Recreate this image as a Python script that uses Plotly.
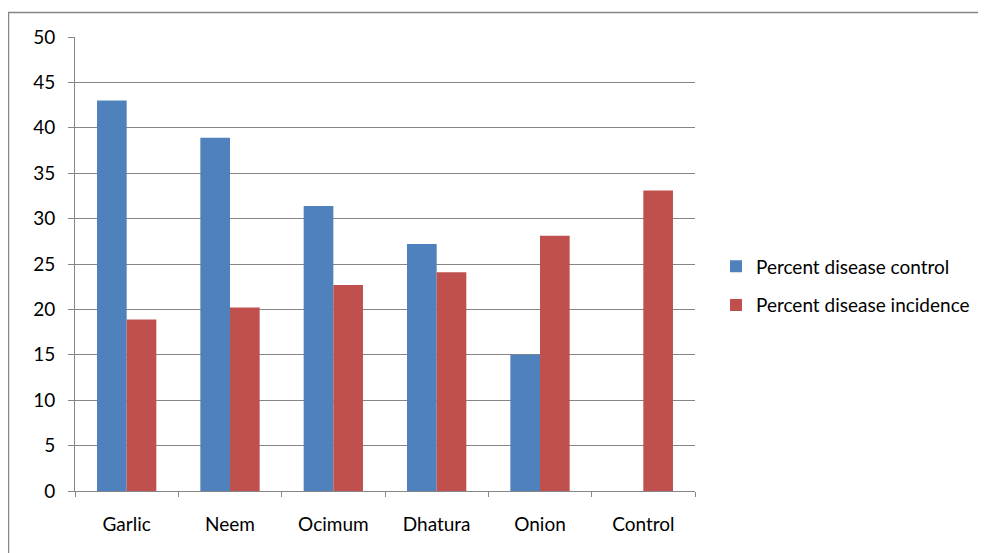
import plotly.graph_objects as go

categories = ["Garlic", "Neem", "Ocimum", "Dhatura", "Onion", "Control"]
disease_control = [43.0, 38.9, 31.4, 27.2, 15.0, None]
disease_incidence = [18.9, 20.2, 22.7, 24.1, 28.1, 33.1]

# page has an 8px body margin, so the figure is 8px smaller and coordinates are shifted
OFF = 8
W, H = 986 - OFF, 553 - OFF
L, R, T, B = 75 - OFF, 986 - 695, 37 - OFF, 553 - 491
pw, ph = W - L - R, H - T - B

def px(x):
    return (x - OFF - L) / pw

def py(y):
    return (H - B - (y - OFF)) / ph

FONT = "Lato, Open Sans, sans-serif"
font = dict(family=FONT, size=19, color="#000000")

fig = go.Figure()
fig.add_trace(go.Bar(x=categories, y=disease_control, name="Percent disease control",
                     legendgroup="a", marker=dict(color="#4F81BD", line=dict(width=0))))
fig.add_trace(go.Bar(x=categories, y=disease_incidence, name="Percent disease incidence",
                     legendgroup="b", marker=dict(color="#C0504D", line=dict(width=0))))

fig.update_layout(
    width=W, height=H,
    margin=dict(l=L, r=R, t=T, b=B, autoexpand=False),
    paper_bgcolor="white", plot_bgcolor="white",
    barmode="group", bargap=0.426, bargroupgap=0,
    font=font,
    showlegend=True,
    legend=dict(x=px(716), y=py(286), xanchor="left", yanchor="middle",
                font=dict(family=FONT, size=19, color="#000"),
                traceorder="grouped", tracegroupgap=11,
                itemwidth=30, bgcolor="rgba(0,0,0,0)"),
    xaxis=dict(showline=True, linecolor="#868686", linewidth=1, ticks="outside",
               tickson="boundaries", ticklen=5, tickcolor="#868686", showgrid=False,
               tickfont=font, ticklabelstandoff=16),
    yaxis=dict(range=[0, 50], dtick=5, showline=True, linecolor="#868686", linewidth=1,
               ticks="outside", ticklen=6, tickcolor="#868686", showgrid=True,
               gridcolor="#868686", gridwidth=1, tickfont=font, zeroline=False,
               ticklabelstandoff=9),
    shapes=[dict(type="rect", xref="paper", yref="paper",
                 x0=px(8.5), x1=px(1000), y0=py(600), y1=py(12.5),
                 line=dict(color="#868686", width=1.5), fillcolor="rgba(0,0,0,0)", layer="below")],
)

fig.write_html("out.html")
